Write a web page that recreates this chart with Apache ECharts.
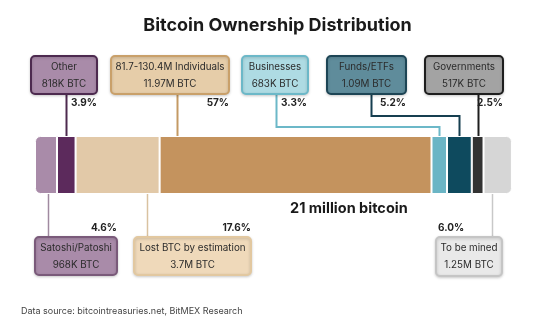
<!DOCTYPE html>
<html><head><meta charset="utf-8">
<script src="https://cdn.jsdelivr.net/npm/echarts@6/dist/echarts.min.js"></script>
<style>html,body{margin:0;padding:0;background:#fff}#c{width:555px;height:329px}</style>
</head><body><div id="c"></div>
<script>
// ---- data ----
const categories = ['Satoshi/Patoshi','Other','Lost BTC by estimation','81.7-130.4M Individuals','Businesses','Funds/ETFs','Governments','To be mined'];
const btcMillions = [0.968, 0.818, 3.7, 11.97, 0.683, 1.09, 0.517, 1.25];
const amountLabels = ['968K BTC','818K BTC','3.7M BTC','11.97M BTC','683K BTC','1.09M BTC','517K BTC','1.25M BTC'];
const shareLabels = ['4.6%','3.9%','17.6%','57%','3.3%','5.2%','2.5%','6.0%'];
const totalLabel = '21 million bitcoin';
const titleText = 'Bitcoin Ownership Distribution';
const sourceText = 'Data source: bitcointreasuries.net, BitMEX Research';

// ---- styles / layout ----
const barColors = ['#a98ba9','#5c2a5c','#e2c9a8','#c4935e','#6bb5c5','#0e4a5e','#333333','#d6d6d6'];
const boxFill   = ['#a98ba9','#a98ba9','#efd9ba','#e6cda9','#aedbe3','#5f8c9b','#a3a3a3','#e9e9e9'];
const boxStroke = ['#7a5a7a','#4d2a4f','#e2c8a0','#c9a06a','#6cb8c8','#1d4555','#1e1e1e','#c5c5c5'];
const lineColor = ['#a08aa0','#4d2a4f','#d9c2a0','#c49a64','#6cb8c8','#163f50','#1e1e1e','#c8c8c8'];
const layout = [
  {side:'bottom', box:[35,237,82,38], pct:{x:117,y:228,align:'right'}, frac:0.6, boxX:48},
  {side:'top', box:[31,56,66,38], pct:{x:97,y:103,align:'right'}, frac:0.5, boxX:66},
  {side:'bottom', box:[134,237,117,38], pct:{x:251,y:228,align:'right'}, frac:0.85, boxX:149},
  {side:'top', box:[111,56,118,38], pct:{x:229,y:103,align:'right'}, frac:0.065, boxX:180},
  {side:'top', box:[242,56,66,38], pct:{x:307,y:103,align:'right'}, frac:0.5, boxX:276, elbow:127},
  {side:'top', box:[327,56,79,38], pct:{x:406,y:103,align:'right'}, frac:0.5, boxX:371, elbow:116},
  {side:'top', box:[425,56,78,38], pct:{x:503,y:103,align:'right'}, frac:0.5, boxX:476},
  {side:'bottom', box:[436,237,66,39], pct:{x:438,y:228,align:'left'}, frac:0.3, boxX:491}
];
const barTop = 136, barH = 58;
const FONT = 'Inter, "Noto Sans", sans-serif';

const chart = echarts.init(document.getElementById('c'), null, {renderer:'canvas'});
const series = categories.map((c,i)=>({
  name:c, type:'bar', stack:'all', barWidth:barH,
  data:[btcMillions[i]],
  itemStyle:{color:barColors[i], borderColor:'#fff', borderWidth:1,
    borderRadius: i===0?[5,0,0,5]:(i===categories.length-1?[0,5,5,0]:0)},
  silent:true, animation:false
}));
chart.setOption({
  animation:false,
  title:{text:titleText, left:'center', top:12, textStyle:{fontFamily:FONT, fontSize:18, fontWeight:'bold', color:'#1a1a1a'}},
  grid:{left:35, right:43, top:barTop, height:barH},
  xAxis:{type:'value', min:0, max:21, show:false},
  yAxis:{type:'category', data:['btc'], show:false},
  series
});

const graphics = [];
let cum = 0;
categories.forEach((c,i)=>{
  const x0 = chart.convertToPixel({xAxisIndex:0}, cum);
  const x1 = chart.convertToPixel({xAxisIndex:0}, cum + btcMillions[i]);
  cum += btcMillions[i];
  const L = layout[i];
  const ax = Math.round(x0 + (x1-x0)*L.frac) + 0.5;
  const [bx,by,bw,bh] = L.box;
  const lw = L.side==='top'?2:1.5;
  let pts;
  if (L.side==='top') {
    const sx = L.boxX + 0.5;
    if (L.elbow) pts = [[sx,by+bh],[sx,L.elbow],[ax,L.elbow],[ax,barTop]];
    else pts = [[ax,by+bh],[ax,barTop]];
  } else {
    pts = [[ax,barTop+barH],[ax,by]];
  }
  graphics.push({type:'polyline', shape:{points:pts}, style:{stroke:lineColor[i], lineWidth:lw, fill:null}, z:1});
  graphics.push({type:'rect', shape:{x:bx,y:by,width:bw,height:bh,r:4},
    style:{fill:boxFill[i], stroke:boxStroke[i], lineWidth:2, shadowBlur:3, shadowColor:'rgba(0,0,0,0.18)', shadowOffsetY:1}, z:2});
  graphics.push({type:'text', x:bx+bw/2, y:by+11.5, z:3,
    style:{text:categories[i], font:'9.8px '+FONT, fill:'#2b2b2b', align:'center', verticalAlign:'middle'}});
  graphics.push({type:'text', x:bx+bw/2, y:by+28, z:3,
    style:{text:amountLabels[i], font:'9.8px '+FONT, fill:'#2b2b2b', align:'center', verticalAlign:'middle'}});
  graphics.push({type:'text', x:L.pct.x, y:L.pct.y, z:3,
    style:{text:shareLabels[i], font:'bold 10px '+FONT, fill:'#222', align:L.pct.align, verticalAlign:'middle'}});
});
graphics.push({type:'text', x:290, y:209, style:{text:totalLabel, font:'bold 14.5px '+FONT, fill:'#1a1a1a', align:'left', verticalAlign:'middle'}});
graphics.push({type:'text', x:21, y:311, style:{text:sourceText, font:'9px '+FONT, fill:'#444', align:'left', verticalAlign:'middle'}});
chart.setOption({graphic:graphics});
</script></body></html>
